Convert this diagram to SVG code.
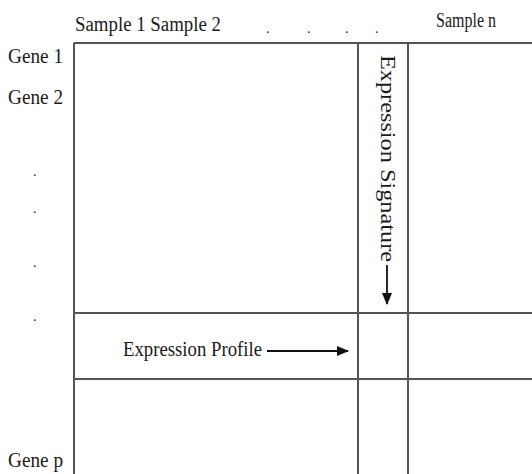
<svg xmlns="http://www.w3.org/2000/svg" width="532" height="474" viewBox="0 0 532 474">
<style>
text{font-family:"Liberation Serif","Times New Roman",serif;font-size:22px;fill:#1a1a1a}
.ln{stroke:#555;stroke-width:2;fill:none}
.ar{stroke:#111;stroke-width:1.8;fill:none}
</style>
<defs>
<marker id="ah" markerWidth="12" markerHeight="10" refX="11" refY="5" orient="auto" markerUnits="userSpaceOnUse">
<path d="M0,0 L12,5 L0,10 Z" fill="#111"/>
</marker>
</defs>
<rect width="532" height="474" fill="#fff"/>
<g id="grid">
<line class="ln" x1="74" y1="43" x2="532" y2="43"/>
<line class="ln" x1="74" y1="43" x2="74" y2="474"/>
<line class="ln" x1="358" y1="43" x2="358" y2="474"/>
<line class="ln" x1="408" y1="43" x2="408" y2="474"/>
<line class="ln" x1="74" y1="313" x2="532" y2="313"/>
<line class="ln" x1="74" y1="379" x2="532" y2="379"/>
</g>
<g id="column-labels">
<text x="75" y="31" style="font-size:20px" textLength="146" lengthAdjust="spacingAndGlyphs">Sample 1  Sample 2</text>
<text x="266" y="33" style="font-size:14px">.</text>
<text x="307" y="33" style="font-size:14px">.</text>
<text x="345" y="33" style="font-size:14px">.</text>
<text x="375" y="33" style="font-size:14px">.</text>
<text x="436" y="27" style="font-size:20px" textLength="60" lengthAdjust="spacingAndGlyphs">Sample n</text>
</g>
<g id="row-labels">
<text x="8" y="63" textLength="55" lengthAdjust="spacingAndGlyphs">Gene 1</text>
<text x="8" y="104" textLength="55" lengthAdjust="spacingAndGlyphs">Gene 2</text>
<text x="33" y="176" style="font-size:14px">.</text>
<text x="33" y="213" style="font-size:14px">.</text>
<text x="33" y="267" style="font-size:14px">.</text>
<text x="33" y="321" style="font-size:14px">.</text>
<text x="8" y="467" textLength="55" lengthAdjust="spacingAndGlyphs">Gene p</text>
</g>
<g id="profile">
<text x="123" y="356" style="font-size:20px" textLength="139" lengthAdjust="spacingAndGlyphs">Expression Profile</text>
</g>
<g id="signature">
<text transform="translate(381,55) rotate(90)" style="font-size:21px" textLength="207" lengthAdjust="spacingAndGlyphs">Expression Signature</text>
</g>
<g id="connectors">
<line class="ar" x1="267" y1="351" x2="348" y2="351" marker-end="url(#ah)"/>
<line class="ar" x1="387" y1="265" x2="387" y2="304" marker-end="url(#ah)"/>
</g>
</svg>
